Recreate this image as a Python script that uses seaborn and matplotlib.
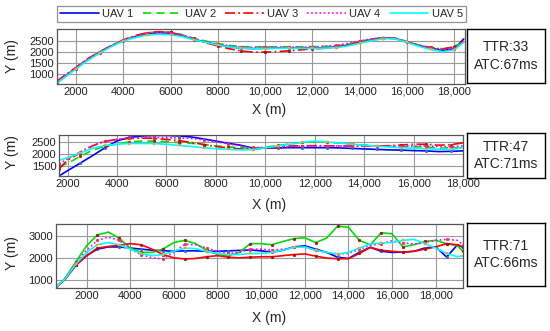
import matplotlib
matplotlib.use("Agg")
import matplotlib.pyplot as plt
import seaborn as sns
from matplotlib.lines import Line2D

sns.set_style("whitegrid")
plt.rcParams['font.family'] = ['Liberation Sans', 'DejaVu Sans']

# ---- data ----
uav_names = ['UAV 1', 'UAV 2', 'UAV 3', 'UAV 4', 'UAV 5']

# panel 1  (TTR:33, ATC:67ms)
x1 = [1200, 1500, 2000, 2500, 3000, 3500, 4000, 4500, 5000, 5500, 6000, 6500,
      7000, 7500, 8000, 8500, 9000, 9500, 10000, 10500, 11000, 11500, 12000,
      12500, 13000, 13500, 14000, 14500, 15000, 15500, 16000, 16500, 17000,
      17500, 18000, 18400]
p1_uav1 = [620, 850, 1250, 1650, 1980, 2270, 2520, 2700, 2830, 2880, 2860, 2740,
           2570, 2450, 2330, 2240, 2180, 2160, 2170, 2180, 2180, 2180, 2190,
           2200, 2230, 2320, 2450, 2560, 2640, 2620, 2450, 2300, 2180,
           2080, 2150, 2600]
p1_uav2 = [650, 880, 1290, 1690, 2010, 2300, 2540, 2730, 2870, 2920, 2900, 2790,
           2620, 2500, 2390, 2300, 2250, 2230, 2240, 2240, 2240, 2240, 2250,
           2260, 2280, 2360, 2480, 2590, 2660, 2640, 2480, 2320, 2210,
           2150, 2250, 2500]
p1_uav3 = [680, 920, 1300, 1700, 2000, 2300, 2550, 2750, 2880, 2930, 2900, 2760,
           2580, 2420, 2280, 2150, 2050, 2000, 2000, 2020, 2060, 2100, 2150,
           2170, 2230, 2330, 2470, 2580, 2650, 2620, 2460, 2300, 2200,
           2130, 2250, 2500]
p1_uav4 = [660, 900, 1290, 1680, 2000, 2290, 2530, 2720, 2860, 2910, 2890, 2780,
           2610, 2480, 2370, 2280, 2230, 2220, 2230, 2230, 2230, 2230, 2240,
           2260, 2300, 2400, 2510, 2600, 2660, 2630, 2470, 2310, 2190,
           2100, 2200, 2450]
p1_uav5 = [600, 830, 1230, 1620, 1950, 2250, 2500, 2660, 2770, 2810, 2790, 2700,
           2560, 2440, 2320, 2230, 2180, 2160, 2160, 2170, 2170, 2170, 2170,
           2180, 2200, 2280, 2400, 2520, 2610, 2600, 2440, 2260, 2120,
           2020, 2100, 2450]

# panel 2  (TTR:47, ATC:71ms)
x2 = [1650, 2000, 2500, 3000, 3500, 4000, 4500, 5000, 5500, 6000, 6500, 7000,
      7500, 8000, 8500, 9000, 9500, 10000, 10500, 11000, 11500, 12000, 12500,
      13000, 13500, 14000, 14500, 15000, 15500, 16000, 16500, 17000, 17500, 18000]
p2_uav1 = [1100, 1320, 1620, 1930, 2250, 2540, 2680, 2740, 2760, 2760, 2740, 2700,
           2620, 2530, 2440, 2360, 2240, 2240, 2250, 2260, 2260, 2260, 2260,
           2250, 2230, 2210, 2190, 2170, 2160, 2140, 2130, 2100, 2110, 2130]
p2_uav2 = [1470, 1620, 1900, 2150, 2320, 2410, 2500, 2530, 2530, 2510, 2470, 2440,
           2390, 2330, 2290, 2260, 2230, 2280, 2350, 2410, 2480, 2490, 2480,
           2450, 2410, 2370, 2330, 2300, 2300, 2300, 2290, 2230, 2260, 2260]
p2_uav3 = [1400, 1750, 2050, 2330, 2520, 2600, 2640, 2650, 2640, 2600, 2550, 2470,
           2390, 2310, 2250, 2210, 2200, 2240, 2290, 2330, 2340, 2340, 2340,
           2330, 2330, 2330, 2330, 2340, 2370, 2400, 2400, 2360, 2380, 2460]
p2_uav4 = [1600, 1800, 2080, 2350, 2520, 2600, 2660, 2680, 2680, 2670, 2660, 2640,
           2580, 2500, 2420, 2330, 2270, 2260, 2280, 2300, 2320, 2330, 2330,
           2330, 2330, 2330, 2330, 2320, 2320, 2330, 2330, 2310, 2300, 2330]
p2_uav5 = [1740, 1850, 2040, 2230, 2350, 2400, 2430, 2430, 2430, 2400, 2350, 2310,
           2260, 2220, 2190, 2170, 2180, 2250, 2330, 2400, 2480, 2530, 2490,
           2450, 2400, 2360, 2320, 2290, 2260, 2240, 2220, 2200, 2190, 2260]

# panel 3  (TTR:71, ATC:66ms)
x3 = [600, 1000, 1500, 2000, 2500, 3000, 3500, 4000, 4500, 5000, 5500, 6000,
      6500, 7000, 7500, 8000, 8500, 9000, 9500, 10000, 10500, 11000, 11500,
      12000, 12500, 13000, 13500, 14000, 14500, 15000, 15500, 16000, 16500,
      17000, 17500, 18000, 18500, 19000, 19250]
p3_uav1 = [650, 1000, 1650, 2100, 2400, 2500, 2500, 2450, 2400, 2350, 2330, 2300,
           2320, 2320, 2300, 2300, 2320, 2340, 2360, 2320, 2260, 2350, 2500,
           2550, 2400, 2250, 2030, 1970, 2250, 2480, 2300, 2250, 2260,
           2300, 2450, 2500, 2040, 2600, 2480]
p3_uav2 = [650, 1050, 1800, 2550, 3050, 3180, 2900, 2450, 2250, 2250, 2400, 2700,
           2800, 2650, 2350, 2150, 2100, 2250, 2650, 2650, 2600, 2750, 2880,
           2920, 2700, 2900, 3450, 3400, 2800, 2600, 3150, 3100, 2500,
           2600, 2750, 2800, 2650, 2550, 2300]
p3_uav3 = [650, 1000, 1650, 2100, 2450, 2520, 2580, 2650, 2600, 2400, 2150, 2000,
           1950, 1970, 2050, 2100, 2030, 2000, 2030, 2050, 2050, 2100, 2150,
           2180, 2080, 1990, 1960, 1960, 2200, 2480, 2350, 2300, 2260,
           2300, 2400, 2500, 2650, 2600, 2500]
p3_uav4 = [650, 1050, 1750, 2350, 2800, 2950, 2800, 2400, 2150, 2000, 1950, 2250,
           2620, 2600, 2450, 2300, 2200, 2250, 2400, 2400, 2350, 2400, 2480,
           2500, 2350, 2250, 2180, 2200, 2400, 2560, 2650, 2780, 2700,
           2630, 2700, 2800, 2850, 2800, 2600]
p3_uav5 = [650, 1020, 1700, 2250, 2600, 2700, 2600, 2400, 2200, 2100, 2150, 2300,
           2450, 2420, 2300, 2200, 2150, 2150, 2200, 2200, 2250, 2350, 2480,
           2500, 2350, 2250, 2180, 2250, 2450, 2630, 2680, 2700, 2800,
           2850, 2650, 2450, 2200, 2050, 2100]

panel_labels = [['TTR:33', 'ATC:67ms'], ['TTR:47', 'ATC:71ms'], ['TTR:71', 'ATC:66ms']]
x_ticks = [2000, 4000, 6000, 8000, 10000, 12000, 14000, 16000, 18000]
x_tick_labels = ['2000', '4000', '6000', '8000', '10,000', '12,000', '14,000', '16,000', '18,000']

# ---- styles ----
line_colors = ['#0000ff', '#00dd00', '#ff0000', '#ff00ff', '#00ffff']
line_styles = ['-', (0, (5, 3)), (0, (6, 2, 1, 2)), (0, (1, 1.5)), '-']
# in the last panel the dense waypoints make green/red look solid
panel3_styles = ['-', '-', '-', (0, (1, 1.5)), '-']
marker_shapes = ['o', 'o', 'o', 'o', 's']
marker_colors = ['#2a6fd0', '#a01020', '#a01020', '#e83050', '#f5a623']

fig = plt.figure(figsize=(5.5, 3.31), dpi=100)

panels = [
    (x1, [p1_uav1, p1_uav2, p1_uav3, p1_uav4, p1_uav5]),
    (x2, [p2_uav1, p2_uav2, p2_uav3, p2_uav4, p2_uav5]),
    (x3, [p3_uav1, p3_uav2, p3_uav3, p3_uav4, p3_uav5]),
]
axes_rect = [[0.1036, 0.7462, 0.7418, 0.1662],
             [0.1073, 0.4683, 0.7345, 0.1239],
             [0.1018, 0.1299, 0.7400, 0.1934]]
box_rect = [[0.849, 0.749, 0.1418, 0.163],
            [0.849, 0.462, 0.1418, 0.136],
            [0.849, 0.136, 0.1418, 0.190]]
xlims = [(1200, 18450), (1650, 18000), (600, 19250)]
ylims = [(550, 3050), (1100, 2780), (620, 3550)]
yticks = [[1000, 1500, 2000, 2500], [1500, 2000, 2500], [1000, 2000, 3000]]
xlabel_y = [1 - 110 / 331, 1 - 205 / 331, 1 - 318 / 331]
ylabel_y = [1 - 56 / 331, 1 - 152 / 331, 1 - 253 / 331]

for i, (xs, series) in enumerate(panels):
    ax = fig.add_axes(axes_rect[i])
    styles = panel3_styles if i == 2 else line_styles
    for j, ys in enumerate(series):
        sns.lineplot(x=xs, y=ys, ax=ax, color=line_colors[j], linestyle=styles[j],
                     linewidth=1.2, marker=marker_shapes[j], markersize=2.0, markevery=2,
                     markerfacecolor=marker_colors[j], markeredgecolor=marker_colors[j],
                     markeredgewidth=0.3, sort=False, estimator=None)
    ax.set_xlim(xlims[i])
    ax.set_ylim(ylims[i])
    ax.set_xticks(x_ticks)
    ax.set_xticklabels(x_tick_labels)
    ax.set_yticks(yticks[i])
    ax.tick_params(axis='both', length=0, labelsize=8, pad=2, colors='#222222')
    ax.grid(True, color='#999999', linewidth=0.8)
    for s in ax.spines.values():
        s.set_color('#555555')
        s.set_linewidth(0.9)
    ax.set_facecolor('white')
    ax.set_xlabel('')
    ax.set_ylabel('')
    fig.text(0.49, xlabel_y[i], 'X (m)', ha='center', va='center', fontsize=10)
    fig.text(12 / 550, ylabel_y[i], 'Y (m)', ha='center', va='center', fontsize=10, rotation=90)

    bx = fig.add_axes(box_rect[i])
    bx.set_xticks([])
    bx.set_yticks([])
    bx.grid(False)
    for s in bx.spines.values():
        s.set_color('black')
        s.set_linewidth(1.0)
    bx.text(0.5, 0.5, panel_labels[i][0] + '\n' + panel_labels[i][1], ha='center', va='center',
            fontsize=10, linespacing=1.3, transform=bx.transAxes)

handles = [Line2D([0], [0], color=line_colors[j], linestyle=line_styles[j], linewidth=1.2)
           for j in range(5)]
leg = fig.legend(handles, uav_names, loc='center', ncol=5,
                 bbox_to_anchor=(0.1055 + 0.37, 0.9305 + 0.0272), fontsize=8,
                 frameon=True, fancybox=False, handlelength=3.5, handletextpad=0.3,
                 borderpad=0.3, columnspacing=0.8, borderaxespad=0)
leg.get_frame().set_edgecolor('#777777')
leg.get_frame().set_linewidth(0.9)

fig.savefig('out.png', dpi=100)
